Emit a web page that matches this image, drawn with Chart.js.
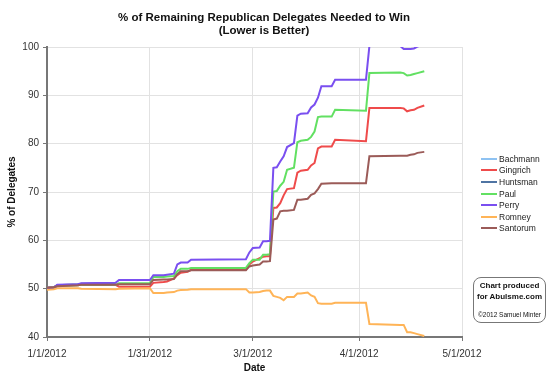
<!DOCTYPE html>
<html lang="en">
<head>
<meta charset="UTF-8" />
<title>% of Remaining Republican Delegates Needed to Win</title>
<script src="https://cdn.jsdelivr.net/npm/chart.js"></script>
<style>
  body { margin: 0; background: #fff; font-family: "Liberation Sans", Arial, sans-serif; }
  #wrap { position: relative; width: 560px; height: 381px; }
  #chartTitle { position: absolute; left: 104px; width: 320px; top: 11px; text-align: center;
    font-weight: bold; font-size: 11.5px; line-height: 13px; color: #111; }
  #legend { position: absolute; left: 481px; top: 153px; font-size: 8.5px; color: #222; }
  #legend div { height: 11.6px; display: flex; align-items: center; white-space: nowrap; }
  #legend .sw { display: inline-block; width: 16px; height: 2px; margin-right: 2px; }
  #credit { position: absolute; left: 473px; top: 277px; width: 71px; height: 44px;
    border: 1px solid #777; border-radius: 8px; text-align: center; color: #111; }
  #credit .big { font-weight: bold; font-size: 8px; line-height: 10.5px; margin-top: 3px; }
  #credit .small { font-size: 6.5px; margin-top: 9px; }
</style>
</head>
<body>
<div id="wrap">
  <canvas id="chart" width="560" height="381"></canvas>
  <div id="chartTitle">% of Remaining Republican Delegates Needed to Win<br>(Lower is Better)</div>
  <div id="legend"></div>
  <div id="credit">
    <div class="big">Chart produced<br>for Abulsme.com</div>
    <div class="small">©2012 Samuel Minter</div>
  </div>
</div>

<script>
  // x axis tick labels
  const tickLabels = ['1/1/2012', '1/31/2012', '3/1/2012', '4/1/2012', '5/1/2012'];

  // dates of the data points
  const dates = [
    '2012-01-01', '2012-01-03', '2012-01-04', '2012-01-10', '2012-01-11', '2012-01-21', '2012-01-22',
    '2012-01-31', '2012-02-01', '2012-02-04', '2012-02-05', '2012-02-07', '2012-02-08', '2012-02-09',
    '2012-02-11', '2012-02-12', '2012-02-28', '2012-02-29', '2012-03-01', '2012-03-03', '2012-03-04',
    '2012-03-05', '2012-03-06', '2012-03-07', '2012-03-08', '2012-03-09', '2012-03-10', '2012-03-11',
    '2012-03-13', '2012-03-14', '2012-03-15', '2012-03-17', '2012-03-18', '2012-03-19', '2012-03-20',
    '2012-03-21', '2012-03-24', '2012-03-25', '2012-04-03', '2012-04-04', '2012-04-13', '2012-04-14',
    '2012-04-15', '2012-04-16', '2012-04-17', '2012-04-18', '2012-04-20'
  ];

  const bachmann = [50.2, 50.3, 50.7];
  const huntsman = [50.2, 50.3, 50.7, 50.9, 51.0, 51.1];

  const gingrich = [
    50.2, 50.3, 50.6, 50.7, 50.8, 50.8, 50.4, 50.4, 51.2, 51.4, 51.5, 52.1, 52.8, 53.3,
    53.5, 53.9, 53.9, 55.0, 55.6, 56.3, 56.6, 56.7, 56.7, 66.7, 66.8, 67.7, 69.3, 70.6,
    70.8, 74.0, 74.4, 74.6, 75.5, 76.0, 79.0, 79.4, 79.4, 80.8, 80.5, 87.4, 87.4, 87.3,
    86.7, 86.9, 87.0, 87.4, 87.9
  ];

  const paul = [
    50.1, 50.2, 50.6, 50.7, 50.8, 50.8, 51.1, 51.1, 52.4, 52.4, 52.5, 52.6, 53.6, 54.1,
    54.1, 54.3, 54.3, 55.3, 56.0, 56.0, 57.0, 57.0, 57.1, 70.1, 70.2, 71.3, 72.1, 74.6,
    75.0, 80.3, 80.6, 80.8, 81.4, 82.5, 85.5, 85.6, 85.6, 87.0, 86.8, 94.6, 94.7, 94.6,
    94.1, 94.2, 94.4, 94.6, 95.0
  ];

  const perry = [
    50.1, 50.2, 50.8, 50.9, 51.1, 51.2, 51.8, 51.8, 52.8, 52.8, 52.9, 53.1, 55.0, 55.4,
    55.4, 56.0, 56.1, 57.5, 58.4, 58.5, 59.8, 59.8, 59.9, 75.0, 75.1, 76.3, 77.4, 79.3,
    80.1, 85.8, 86.2, 86.3, 87.5, 88.1, 89.5, 91.9, 91.9, 93.2, 93.2, 100.2, 100.2, 99.6,
    99.6, 99.6, 99.7, 100.1, 100.5
  ];

  const romney = [
    49.8, 49.9, 50.1, 50.1, 50.0, 49.9, 50.0, 50.1, 49.1, 49.1, 49.2, 49.3, 49.6, 49.7,
    49.8, 49.9, 49.9, 49.2, 49.2, 49.3, 49.5, 49.6, 49.6, 48.5, 48.3, 48.1, 47.6, 48.3,
    48.3, 49.0, 49.0, 49.2, 48.6, 48.3, 47.0, 46.9, 46.9, 47.1, 47.1, 42.7, 42.5, 42.5,
    41.0, 41.0, 40.8, 40.6, 40.2
  ];

  const santorum = [
    50.2, 50.3, 50.5, 50.7, 50.8, 50.8, 50.9, 50.9, 51.8, 51.9, 51.9, 52.0, 53.0, 53.6,
    53.6, 53.8, 53.8, 54.6, 54.8, 55.0, 55.6, 55.6, 55.7, 64.3, 64.5, 66.0, 66.1, 66.1,
    66.3, 68.4, 68.4, 68.6, 69.4, 69.7, 70.6, 71.7, 71.8, 71.8, 71.8, 77.4, 77.5, 77.5,
    77.5, 77.7, 77.8, 78.1, 78.3
  ];

  const names = ['Bachmann', 'Gingrich', 'Huntsman', 'Paul', 'Perry', 'Romney', 'Santorum'];
  const series = [bachmann, gingrich, huntsman, paul, perry, romney, santorum];
  const colors = ['#8ec2f2', '#ef4b4b', '#4f74a3', '#62e062', '#7a4ff0', '#ffb457', '#9b5b58'];

  // days since 1/1/2012
  function dayOf(str) {
    let y, m, d;
    if (str.includes('/')) { [m, d, y] = str.split('/').map(Number); }
    else { [y, m, d] = str.split('-').map(Number); }
    return (Date.UTC(y, m - 1, d) - Date.UTC(2012, 0, 1)) / 864e5;
  }
  const tickDays = tickLabels.map(dayOf);

  const datasets = names.map((name, i) => ({
    label: name,
    data: series[i].map((v, j) => ({ x: dayOf(dates[j]), y: v })),
    borderColor: colors[i],
    borderWidth: 2,
    pointRadius: 0,
    tension: 0,
    clip: 0,
    order: names.length - i
  }));

  // legend
  const legend = document.getElementById('legend');
  names.forEach((name, i) => {
    const row = document.createElement('div');
    row.innerHTML = '<span class="sw" style="background:' + colors[i] + '"></span>' + name;
    legend.appendChild(row);
  });

  const axisFont = { family: '"Liberation Sans", Arial, sans-serif', size: 10 };

  new Chart(document.getElementById('chart'), {
    type: 'line',
    data: { datasets: datasets },
    options: {
      responsive: false,
      animation: false,
      layout: { padding: { top: 47, right: 98, bottom: 0, left: 0 } },
      plugins: { legend: { display: false }, tooltip: { enabled: false } },
      scales: {
        x: {
          type: 'linear',
          min: tickDays[0],
          max: tickDays[tickDays.length - 1],
          afterBuildTicks: (s) => { s.ticks = tickDays.map(v => ({ value: v })); },
          afterFit: (s) => { s.height = 44; },
          ticks: {
            callback: (v) => tickLabels[tickDays.indexOf(v)],
            font: axisFont, color: '#333', padding: 7, maxRotation: 0, autoSkip: false
          },
          grid: { color: '#e2e2e2', tickColor: '#777', tickLength: 4 },
          border: { color: '#777', width: 2 },
          title: {
            display: true, text: 'Date', color: '#111',
            font: { family: axisFont.family, size: 10, weight: 'bold' },
            padding: { top: 0, bottom: 7 }
          }
        },
        y: {
          min: 40,
          max: 100,
          afterFit: (s) => { s.width = 47; },
          ticks: { stepSize: 10, font: axisFont, color: '#333', padding: 4 },
          grid: { color: '#e2e2e2', tickColor: '#777', tickLength: 4 },
          border: { color: '#777', width: 2 },
          title: {
            display: true, text: '% of Delegates', color: '#111',
            font: { family: axisFont.family, size: 10, weight: 'bold' },
            padding: { top: 6, bottom: 0 }
          }
        }
      }
    }
  });
</script>
</body>
</html>
